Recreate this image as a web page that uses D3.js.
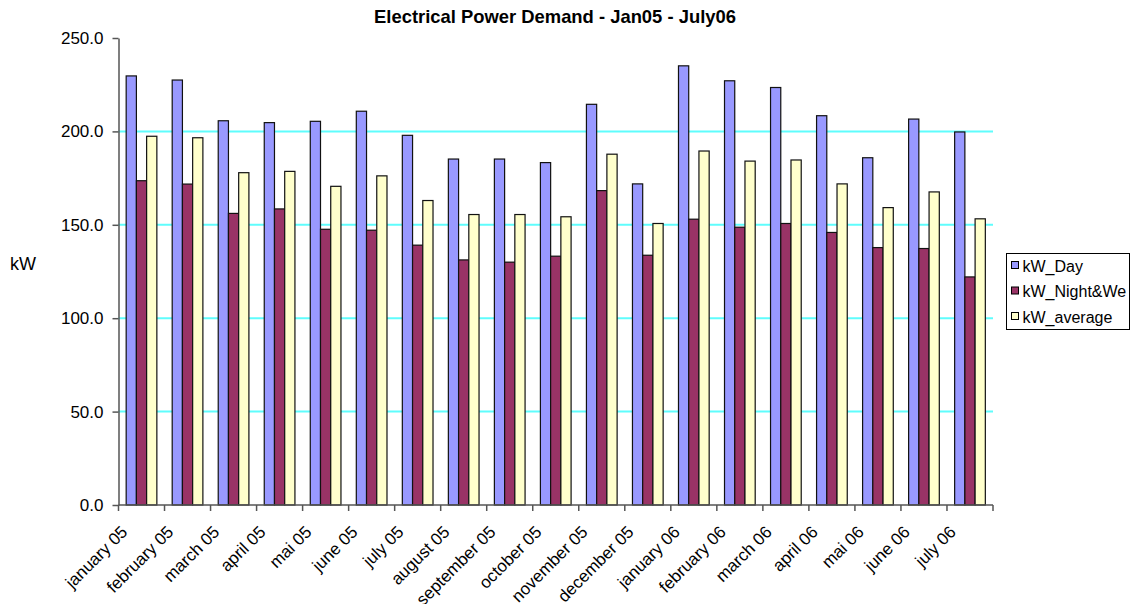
<!DOCTYPE html>
<html>
<head>
<meta charset="utf-8">
<script src="https://cdn.jsdelivr.net/npm/d3@7"></script>
<style>
  html, body { margin: 0; padding: 0; background: #fff; }
  svg { display: block; font-family: "Liberation Sans", Arial, sans-serif; }
</style>
</head>
<body>
<svg id="chart" width="1132" height="604"></svg>
<script>
// Monthly demand, January 2005 to July 2006
const months = ["january 05", "february 05", "march 05", "april 05", "mai 05", "june 05",
  "july 05", "august 05", "september 05", "october 05", "november 05", "december 05",
  "january 06", "february 06", "march 06", "april 06", "mai 06", "june 06", "july 06"];

const kwDay = [229.7, 227.5, 205.7, 204.7, 205.4, 210.8, 197.9, 185.2, 185.2, 183.3,
  214.5, 171.9, 235.1, 227.1, 223.5, 208.4, 185.9, 206.6, 199.7];
const kwNight = [173.6, 171.8, 156.1, 158.5, 147.6, 147.1, 139.1, 131.2, 130.0, 133.2,
  168.3, 133.7, 153.0, 148.7, 150.7, 145.9, 137.8, 137.3, 122.1];
const kwAverage = [197.4, 196.6, 177.9, 178.6, 170.6, 176.2, 163.0, 155.5, 155.5, 154.3,
  187.8, 150.7, 189.5, 184.1, 184.7, 171.9, 159.2, 167.6, 153.2];

const seriesNames = ["kW_Day", "kW_Night&We", "kW_average"];
const seriesColors = ["#9999ff", "#993366", "#ffffcc"];
const yTicks = [0, 50, 100, 150, 200, 250];

const series = [kwDay, kwNight, kwAverage];

const svg = d3.select("#chart");
const plotLeft = 118.5, plotRight = 993, plotTop = 38, plotBottom = 505;

const x = d3.scaleBand().domain(months).range([plotLeft, plotRight]).padding(0);
const y = d3.scaleLinear().domain([0, 250]).range([plotBottom, plotTop]);

// bar width follows a 150% gap between clusters
const barW = x.bandwidth() / (series.length + 1.5);
const offset = barW * 0.75;

// title
svg.append("text")
  .attr("x", 555).attr("y", 23)
  .attr("text-anchor", "middle")
  .attr("font-weight", "bold")
  .attr("font-size", 18.4)
  .text("Electrical Power Demand - Jan05 - July06");

// horizontal gridlines (none on the top edge)
svg.append("g")
  .selectAll("line")
  .data(yTicks.filter(d => d > 0 && d < 250))
  .join("line")
  .attr("x1", plotLeft).attr("x2", plotRight)
  .attr("y1", d => y(d)).attr("y2", d => y(d))
  .attr("stroke", "#5ffdfd")
  .attr("stroke-width", 2);

// bars
const groups = svg.append("g")
  .selectAll("g")
  .data(series)
  .join("g")
  .attr("fill", (d, i) => seriesColors[i]);

groups.selectAll("rect")
  .data((vals, si) => vals.map((v, mi) => ({ v, mi, si })))
  .join("rect")
  .attr("x", d => x(months[d.mi]) + offset + d.si * barW)
  .attr("y", d => y(d.v))
  .attr("width", barW)
  .attr("height", d => y(0) - y(d.v))
  .attr("stroke", "#111")
  .attr("stroke-width", 1.2);

// y axis
const yAxis = d3.axisLeft(y)
  .tickValues(yTicks)
  .tickFormat(d3.format(".1f"))
  .tickSizeInner(6).tickSizeOuter(0).tickPadding(9);
const gy = svg.append("g").attr("transform", `translate(${plotLeft},0)`).call(yAxis);
gy.select(".domain").attr("stroke", "#555").attr("stroke-width", 1.5);
gy.selectAll(".tick line").attr("stroke", "#555").attr("stroke-width", 1.5);
gy.selectAll(".tick text")
  .attr("font-size", 17)
  .attr("font-family", "Liberation Sans, Arial, sans-serif")
  .attr("fill", "#000");

// x axis: tick marks at cluster boundaries
const gx = svg.append("g").attr("transform", `translate(0,${plotBottom})`);
gx.append("line")
  .attr("x1", plotLeft).attr("x2", plotRight)
  .attr("stroke", "#555").attr("stroke-width", 1.5);
gx.selectAll("line.tk")
  .data(months.concat(["end"]))
  .join("line")
  .attr("class", "tk")
  .attr("x1", (d, i) => plotLeft + i * x.bandwidth())
  .attr("x2", (d, i) => plotLeft + i * x.bandwidth())
  .attr("y1", 0).attr("y2", 6)
  .attr("stroke", "#555").attr("stroke-width", 1.5);

gx.selectAll("text")
  .data(months)
  .join("text")
  .attr("text-anchor", "end")
  .attr("font-size", 17)
  .attr("transform", d => `translate(${x(d) + x.bandwidth() / 2 - 13},${28}) rotate(-45)`)
  .text(d => d);

// y axis title
svg.append("text")
  .attr("x", 10).attr("y", 270)
  .attr("font-size", 18)
  .text("kW");

// legend
const lg = svg.append("g").attr("transform", "translate(1006.5,253.5)");
lg.append("rect")
  .attr("width", 123).attr("height", 76)
  .attr("fill", "#fff").attr("stroke", "#000").attr("stroke-width", 1);
const items = lg.selectAll("g.item")
  .data(seriesNames)
  .join("g")
  .attr("class", "item")
  .attr("transform", (d, i) => `translate(5,${12 + i * 25.5})`);
items.append("rect")
  .attr("x", 0).attr("y", -4)
  .attr("width", 7).attr("height", 7)
  .attr("fill", (d, i) => seriesColors[i])
  .attr("stroke", "#000").attr("stroke-width", 1);
items.append("text")
  .attr("x", 11).attr("y", 6)
  .attr("font-size", 16)
  .text(d => d);
</script>
</body>
</html>
